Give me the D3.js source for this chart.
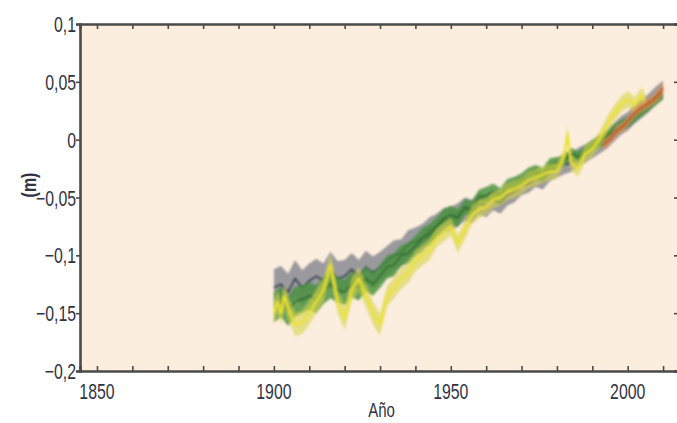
<!DOCTYPE html>
<html><head><meta charset="utf-8">
<script src="https://cdn.jsdelivr.net/npm/d3@7"></script>
<style>body{margin:0;background:#fff;}svg{display:block;}</style>
</head><body>
<svg id="c" width="677" height="423"></svg>
<script>
// ---- data ----
const xTicks = [1850, 1900, 1950, 2000];
const xMinorTicks = [1850,1860,1870,1880,1890,1900,1910,1920,1930,1940,1950,1960,1970,1980,1990,2000,2010];
const yTicks = [0.1, 0.05, 0, -0.05, -0.1, -0.15, -0.2];
const yTickLabels = ["0,1","0,05","0","\u22120,05","\u22120,1","\u22120,15","\u22120,2"];
const xLabel = "Año";
const yLabel = "(m)";

const greyYears = [1900,1902,1904,1906,1908,1910,1912,1914,1916,1918,1920,1922,1924,1926,1928,1930,1932,1934,1936,1938,1940,1942,1944,1946,1948,1950,1952,1954,1956,1958,1960,1962,1964,1966,1968,1970,1972,1974,1976,1978,1980,1982,1984,1986,1988,1990,1992,1994,1996,1998,2000,2002,2004,2006,2008,2010];
const greyValues = [-0.128,-0.125,-0.132,-0.120,-0.128,-0.122,-0.118,-0.122,-0.112,-0.120,-0.118,-0.112,-0.118,-0.110,-0.115,-0.110,-0.105,-0.100,-0.098,-0.090,-0.088,-0.085,-0.078,-0.075,-0.070,-0.068,-0.065,-0.060,-0.062,-0.055,-0.058,-0.052,-0.055,-0.048,-0.045,-0.040,-0.038,-0.033,-0.035,-0.028,-0.025,-0.022,-0.020,-0.015,-0.012,-0.008,-0.004,0.000,0.006,0.012,0.016,0.022,0.027,0.032,0.038,0.043];
const greyUnc = [0.016,0.016,0.016,0.016,0.015,0.015,0.015,0.015,0.015,0.015,0.014,0.014,0.014,0.014,0.014,0.013,0.013,0.013,0.012,0.012,0.012,0.012,0.011,0.011,0.011,0.010,0.010,0.010,0.010,0.010,0.009,0.009,0.009,0.009,0.009,0.008,0.008,0.008,0.008,0.008,0.008,0.008,0.008,0.008,0.008,0.008,0.008,0.008,0.008,0.008,0.008,0.008,0.008,0.008,0.008,0.008];

const greenYears = greyYears;
const greenValues = [-0.145,-0.140,-0.148,-0.140,-0.138,-0.135,-0.138,-0.130,-0.125,-0.130,-0.132,-0.125,-0.128,-0.120,-0.125,-0.118,-0.110,-0.108,-0.100,-0.098,-0.092,-0.085,-0.082,-0.075,-0.068,-0.065,-0.068,-0.058,-0.060,-0.050,-0.048,-0.045,-0.048,-0.040,-0.038,-0.035,-0.030,-0.028,-0.030,-0.022,-0.020,-0.018,-0.012,-0.015,-0.010,-0.005,-0.002,0.002,0.008,0.012,0.015,0.020,0.025,0.030,0.035,0.040];
const greenUnc = [0.013,0.013,0.013,0.013,0.012,0.012,0.012,0.012,0.012,0.011,0.011,0.011,0.011,0.011,0.010,0.010,0.010,0.010,0.009,0.009,0.009,0.009,0.009,0.008,0.008,0.008,0.008,0.007,0.007,0.007,0.007,0.007,0.006,0.006,0.006,0.006,0.006,0.006,0.006,0.006,0.005,0.005,0.005,0.005,0.005,0.005,0.005,0.005,0.005,0.005,0.005,0.005,0.005,0.005,0.005,0.005];

const yellowYears = [1900,1901,1902,1903,1904,1906,1908,1910,1912,1914,1916,1918,1920,1922,1924,1926,1928,1930,1932,1934,1936,1938,1940,1942,1944,1946,1948,1950,1952,1954,1956,1958,1960,1962,1964,1966,1968,1970,1972,1974,1976,1978,1980,1982,1983,1984,1986,1988,1990,1992,1994,1996,1998,2000,2002,2004,2005];
const yellowValues = [-0.150,-0.140,-0.150,-0.135,-0.145,-0.160,-0.158,-0.150,-0.140,-0.130,-0.108,-0.140,-0.155,-0.130,-0.120,-0.135,-0.150,-0.160,-0.135,-0.128,-0.120,-0.115,-0.105,-0.100,-0.095,-0.085,-0.080,-0.075,-0.090,-0.078,-0.065,-0.060,-0.058,-0.052,-0.050,-0.045,-0.043,-0.040,-0.035,-0.033,-0.030,-0.028,-0.027,-0.015,0.005,-0.020,-0.025,-0.012,-0.008,0.000,0.012,0.022,0.030,0.035,0.030,0.038,0.033];
const yellowUnc = [0.010,0.010,0.010,0.010,0.010,0.010,0.010,0.010,0.010,0.010,0.010,0.010,0.010,0.010,0.010,0.010,0.010,0.010,0.009,0.009,0.009,0.009,0.009,0.009,0.009,0.008,0.008,0.008,0.008,0.008,0.008,0.008,0.007,0.007,0.007,0.007,0.007,0.007,0.007,0.007,0.007,0.007,0.007,0.007,0.007,0.007,0.007,0.007,0.007,0.007,0.007,0.007,0.007,0.007,0.007,0.007,0.007];

const satYears = [1993,1995,1997,1999,2001,2003,2005,2007,2009,2010];
const satValues = [-0.005,0.000,0.008,0.012,0.020,0.026,0.030,0.034,0.040,0.045];
const satUnc = [0.004,0.004,0.004,0.004,0.004,0.004,0.004,0.004,0.005,0.005];

// ---- chart ----
const svg = d3.select("#c");
const L = 80, R = 679, T = 24, B = 371;
const x = d3.scaleLinear().domain([1845.2, 2014.5]).range([L, R]);
const y = d3.scaleLinear().domain([-0.2, 0.1]).range([B, T]);

const defs = svg.append("defs");
defs.append("clipPath").attr("id","clip").append("rect")
  .attr("x",L).attr("y",T).attr("width",R-L).attr("height",B-T);
defs.append("filter").attr("id","blur").append("feGaussianBlur").attr("stdDeviation",1.1);

svg.append("rect").attr("x",L).attr("y",T).attr("width",R-L).attr("height",B-T).attr("fill","#fceedf");

const g = svg.append("g").attr("clip-path","url(#clip)").append("g").attr("filter","url(#blur)");

function series(years, vals, unc, bandColor, bandOpacity, lineColor, lineWidth){
  const d = years.map((yr,i)=>({yr, v: vals[i], u: unc[i]}));
  g.append("path").datum(d)
    .attr("d", d3.area().x(p=>x(p.yr)).y0(p=>y(p.v-p.u)).y1(p=>y(p.v+p.u)))
    .attr("fill", bandColor).attr("fill-opacity", bandOpacity);
  g.append("path").datum(d)
    .attr("d", d3.line().x(p=>x(p.yr)).y(p=>y(p.v)))
    .attr("fill","none").attr("stroke", lineColor).attr("stroke-width", lineWidth)
    .attr("stroke-linejoin","round");
}
series(greyYears, greyValues, greyUnc, "#7a7c88", 0.75, "#26304a", 1.6);
series(greenYears, greenValues, greenUnc, "#45903a", 0.8, "#2a6529", 1.4);
series(yellowYears, yellowValues, yellowUnc, "#d6d448", 0.6, "#ece32a", 2);
series(satYears, satValues, satUnc, "#e09050", 0.75, "#c0482c", 1.6);

// axes
const axisColor = "#4a4a4a";
const fontFam = "'Liberation Sans', Arial, sans-serif";
const txtColor = "#2f3344";

const axBottom = svg.append("g").attr("transform",`translate(0,${B})`)
  .call(d3.axisBottom(x).tickValues(xMinorTicks).tickSize(-5).tickFormat(""));
const axTop = svg.append("g").attr("transform",`translate(0,${T})`)
  .call(d3.axisTop(x).tickValues(xMinorTicks).tickSize(-5).tickFormat(""));
const axLeft = svg.append("g").attr("transform",`translate(${L},0)`)
  .call(d3.axisLeft(y).tickValues(yTicks).tickSize(4).tickFormat(""));
const axRight = svg.append("g").attr("transform",`translate(${R},0)`)
  .call(d3.axisRight(y).tickValues(yTicks).tickSize(-5).tickFormat(""));
[axBottom, axTop, axLeft, axRight].forEach(a=>{
  a.select(".domain").attr("stroke",axisColor).attr("stroke-width",2.6);
  a.selectAll(".tick line").attr("stroke",axisColor).attr("stroke-width",1.6);
});

// tick labels
svg.append("g").selectAll("text").data(xTicks).join("text")
  .attr("transform", d=>`translate(${x(d)},${B+28}) scale(0.72,1)`)
  .attr("text-anchor","middle").attr("font-family",fontFam).attr("font-size",22)
  .attr("fill",txtColor).text(d=>String(d));

svg.append("g").selectAll("text").data(yTicks).join("text")
  .attr("transform", d=>`translate(${L-4},${y(d)+8}) scale(0.72,1)`)
  .attr("text-anchor","end").attr("font-family",fontFam).attr("font-size",22)
  .attr("fill",txtColor).text((d,i)=>yTickLabels[i]);

svg.append("text")
  .attr("transform", `translate(${(L+R)/2+2},417) scale(0.75,1)`)
  .attr("text-anchor","middle").attr("font-family",fontFam).attr("font-size",20)
  .attr("fill",txtColor).text(xLabel);

svg.append("text")
  .attr("transform", `translate(36,185) rotate(-90) scale(0.8,1)`)
  .attr("text-anchor","middle").attr("font-family",fontFam).attr("font-size",20)
  .attr("font-weight","bold").attr("fill",txtColor).text(yLabel);
</script>
</body></html>
